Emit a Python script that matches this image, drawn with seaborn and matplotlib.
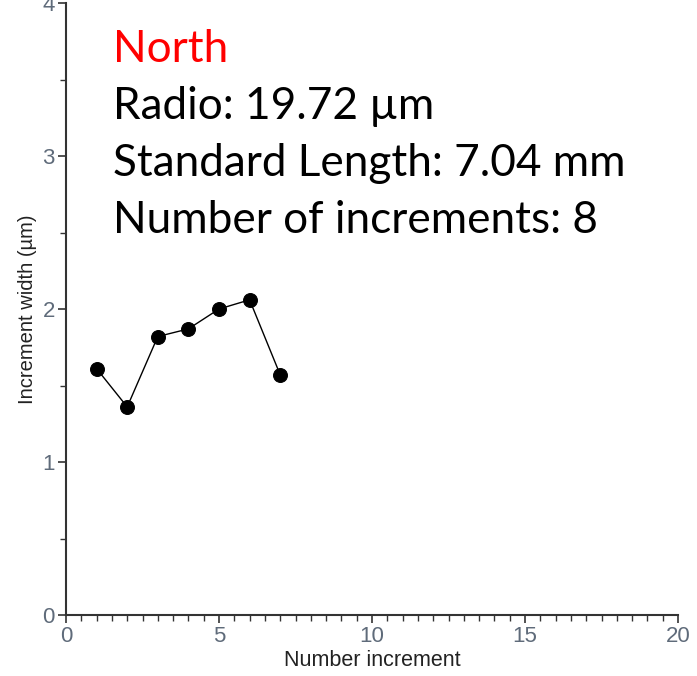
import matplotlib
matplotlib.use("Agg")
import matplotlib.pyplot as plt
import seaborn as sns
import pandas as pd
from matplotlib.ticker import MultipleLocator

increment = [1, 2, 3, 4, 5, 6, 7]
width_um = [1.61, 1.36, 1.82, 1.87, 2.00, 2.06, 1.57]
info_lines = ["North", "Radio: 19.72 µm", "Standard Length: 7.04 mm", "Number of increments: 8"]
info_colors = ["#ff0000", "black", "black", "black"]
x_ticks = [0, 5, 10, 15, 20]
y_ticks = [0, 1, 2, 3, 4]

sns.set_style("ticks")
plt.rcParams['font.family'] = ['Liberation Sans', 'DejaVu Sans']

df = pd.DataFrame({"Number increment": increment, "Increment width": width_um})

fig = plt.figure(figsize=(6.97, 6.76), dpi=100)
ax = fig.add_axes([66/697, 61/676, 612/697, 612/676])

sns.lineplot(data=df, x="Number increment", y="Increment width", ax=ax,
             color="black", linewidth=1.0, marker="o", markersize=10,
             markeredgecolor="black", markerfacecolor="black")

ax.set_xlim(0, 20)
ax.set_ylim(0, 4)
ax.set_xticks(x_ticks)
ax.set_yticks(y_ticks)
ax.xaxis.set_minor_locator(MultipleLocator(0.5))
ax.yaxis.set_minor_locator(MultipleLocator(0.5))
tick_color = "#5f6b7a"
ax.tick_params(axis="both", which="major", length=6, width=1.2, color="#333333",
               labelsize=16, labelcolor=tick_color, pad=2)
ax.tick_params(axis="both", which="minor", length=4, width=1.0, color="#333333")

for s in ["top", "right"]:
    ax.spines[s].set_visible(False)
for s in ["left", "bottom"]:
    ax.spines[s].set_color("#333333")
    ax.spines[s].set_linewidth(1.5)

ax.set_xlabel("Number increment", fontsize=15.5, color="#222222", labelpad=2)
ax.set_ylabel("Increment width (µm)", fontsize=14.5, color="#222222", labelpad=4)

baselines = [62, 119, 176, 233]
for txt, col, b in zip(info_lines, info_colors, baselines):
    fig.text(113/697, 1 - b/676, txt, color=col, fontsize=31.8,
             family=['Lato', 'DejaVu Sans'], va='baseline', ha='left')

fig.savefig("out.png", dpi=100)
